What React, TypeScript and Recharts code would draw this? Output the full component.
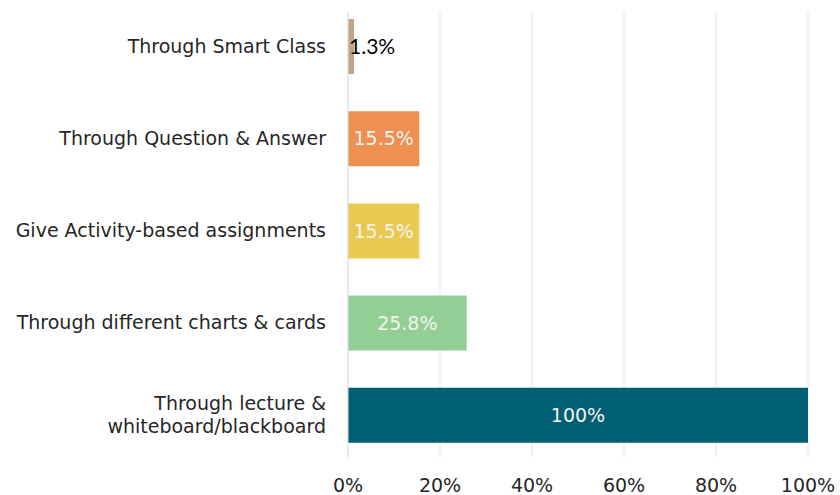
import { Bar, BarChart, CartesianGrid, Cell, LabelList, XAxis, YAxis } from "recharts";

const methods = [
	"Through Smart Class",
	"Through Question & Answer",
	"Give Activity-based assignments",
	"Through different charts & cards",
	"Through lecture &\nwhiteboard/blackboard",
];
const shares = [1.3, 15.5, 15.5, 25.8, 100];
const barColors = ["#c4a582", "#ee8f54", "#e9c952", "#93cf94", "#005f73"];
const percentTicks = [0, 20, 40, 60, 80, 100];

const data = methods.map((method, i) => ({ method, share: shares[i] }));

const FONT = "DejaVu Sans";

// étiquette de catégorie, sur deux lignes si besoin
const MethodTick = (props: any) => {
	const { x, y, payload } = props;
	const lines = String(payload.value).split("\n");
	const lineHeight = 23;
	const start = -((lines.length - 1) * lineHeight) / 2;
	return (
		<text
			x={x}
			y={y}
			textAnchor="end"
			fill="#262626"
			fontSize={19}
			fontFamily={FONT}
		>
			{lines.map((line, i) => (
				<tspan key={i} x={x} y={y + start + i * lineHeight} dy="0.35em">
					{line}
				</tspan>
			))}
		</text>
	);
};

const ShareLabel = (props: any) => {
	const { x, y, width, height, value } = props;
	const text = `${value}%`;
	if (value < 5) {
		return (
			<text
				x={x + 1}
				y={y + height / 2}
				dy="0.35em"
				textAnchor="start"
				fill="#000"
				fontSize={21}
				fontFamily="Lato"
			>
				{text}
			</text>
		);
	}
	return (
		<text
			x={x + width / 2}
			y={y + height / 2}
			dy="0.35em"
			textAnchor="middle"
			fill="#f4f4ee"
			fontSize={19}
			fontFamily={FONT}
		>
			{text}
		</text>
	);
};

export default function App() {
	return (
		<div style={{ position: "absolute", left: 0, top: 0, background: "#fff" }}>
			<BarChart
				width={840}
				height={495}
				data={data}
				layout="vertical"
				margin={{ top: 12, right: 32, bottom: 0, left: 0 }}
			>
				<CartesianGrid horizontal={false} stroke="#e3e3e3" />
				<XAxis
					type="number"
					domain={[0, 100]}
					ticks={percentTicks}
					tickFormatter={(v) => `${v}%`}
					axisLine={false}
					tickLine={false}
					tickSize={0}
					tickMargin={22}
					height={38}
					tick={{ fill: "#262626", fontSize: 19, fontFamily: FONT }}
				/>
				<YAxis
					type="category"
					dataKey="method"
					width={348}
					axisLine={{ stroke: "#d8e3ec" }}
					tickLine={false}
					tickSize={0}
					tickMargin={22}
					padding={{ top: -12, bottom: -4 }}
					tick={<MethodTick />}
					interval={0}
				/>
				<Bar dataKey="share" barSize={55} isAnimationActive={false}>
					{data.map((d, i) => (
						<Cell key={d.method} fill={barColors[i]} />
					))}
					<LabelList dataKey="share" content={<ShareLabel />} />
				</Bar>
			</BarChart>
		</div>
	);
}
